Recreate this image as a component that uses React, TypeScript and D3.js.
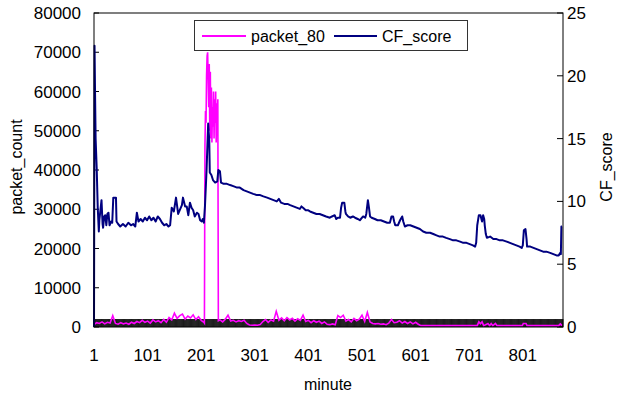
import * as d3 from "d3";

const width = 623;
const height = 399;
const plot = { left: 94, right: 563, top: 13, bottom: 327 };

const minuteDomain = [1, 876];
const minuteTicks = [1, 101, 201, 301, 401, 501, 601, 701, 801];
const packetTicks = [0, 10000, 20000, 30000, 40000, 50000, 60000, 70000, 80000];
const scoreTicks = [0, 5, 10, 15, 20, 25];

// [minute, packets]
const packet80: [number, number][] = [
  [1, 600], [6, 1100], [11, 900], [16, 1300], [21, 800], [26, 1200], [31, 1000], [36, 2900],
  [41, 900], [46, 700], [51, 1100], [56, 800], [61, 1000], [66, 700], [71, 1200], [76, 900],
  [81, 1400], [86, 1100], [91, 1700], [96, 1200], [101, 1500], [106, 1000], [111, 1800], [116, 1300],
  [121, 1600], [126, 1100], [131, 1900], [136, 1200], [141, 2400], [146, 1800], [151, 3500], [156, 2200],
  [161, 2900], [166, 3300], [171, 2000], [176, 2800], [181, 2300], [186, 3100], [191, 1900], [196, 2600],
  [201, 1700], [206, 1200], [207, 1000],
  [208, 46000], [209, 55000], [210, 52000], [211, 64000], [212, 69000], [213, 70000], [214, 63000],
  [215, 56000], [216, 67000], [217, 50000], [218, 65000], [219, 48000], [220, 61000], [221, 47000],
  [222, 56000], [223, 51000], [224, 60000], [225, 48000], [226, 58000], [227, 52000], [228, 60000],
  [229, 47000], [230, 57000], [231, 50000], [232, 58000],
  [233, 1600], [236, 1800], [241, 1300], [246, 2000], [251, 3000], [256, 1500], [261, 1700], [266, 1300],
  [271, 1600], [276, 1400], [281, 1700], [286, 900], [291, 500], [296, 450], [301, 500], [306, 450],
  [311, 600], [316, 1400], [321, 1900], [326, 1200], [331, 1800], [336, 1500], [341, 4000], [346, 1700],
  [351, 2300], [356, 1600], [361, 2400], [366, 1800], [371, 2200], [376, 1500], [381, 2100], [386, 1700],
  [391, 3000], [396, 1400], [401, 1700], [406, 1100], [411, 1600], [416, 1200], [421, 1500], [426, 900],
  [431, 1300], [436, 700], [441, 600], [446, 800], [451, 600], [456, 2900], [461, 2400], [466, 3000],
  [471, 1500], [476, 1900], [481, 1300], [486, 2200], [491, 1600], [496, 2000], [501, 3000], [506, 1400],
  [511, 3700], [516, 1300], [521, 900], [526, 800], [531, 900], [536, 700], [541, 800], [546, 600],
  [551, 1000], [556, 1900], [561, 1100], [566, 1200], [571, 1600], [576, 1000], [581, 1400], [586, 900],
  [591, 1300], [596, 800], [601, 1200], [606, 700], [611, 350], [631, 350], [651, 350], [671, 350],
  [691, 350], [711, 350], [716, 350], [719, 1300], [722, 800], [725, 1300], [728, 350], [736, 900],
  [739, 350], [742, 900], [745, 350], [750, 900], [753, 350], [771, 350], [791, 350], [800, 350],
  [802, 900], [807, 900], [809, 350], [831, 350], [851, 350], [868, 350], [871, 800], [874, 350],
];

// [minute, score]
const cfScore: [number, number][] = [
  [1, 0], [2, 22.4], [3, 18.5], [4, 15], [6, 12.7], [8, 9.5], [10, 7.6], [11, 8.5], [15, 10.1],
  [17, 8.2], [18, 7.9], [20, 8.8], [22, 8.9], [24, 8.1], [26, 9.0], [28, 9.1], [30, 8.1], [33, 8.4],
  [35, 8.3], [37, 10.3], [42, 10.3], [43, 8.4], [46, 8.2], [50, 8.0], [55, 8.2], [60, 8.0], [65, 8.3],
  [70, 8.1], [74, 8.2], [78, 8.0], [81, 9.1], [84, 8.4], [88, 8.6], [92, 8.4], [96, 8.7], [100, 8.5],
  [104, 8.8], [108, 8.5], [112, 8.7], [116, 8.4], [120, 8.8], [124, 8.6], [128, 8.3], [132, 8.1],
  [136, 8.2], [140, 8.0], [143, 8.1], [146, 9.5], [150, 9.2], [154, 10.3], [158, 9.0], [162, 9.4],
  [165, 9.7], [167, 10.3], [171, 9.6], [174, 9.6], [177, 8.9], [180, 9.9], [183, 9.5], [186, 9.3],
  [189, 8.8], [193, 9.1], [196, 9.0], [199, 8.5], [202, 8.4], [204, 8.6], [206, 8.3], [208, 9.6],
  [211, 12.5], [214, 16.2], [216, 14.9], [217, 12.3], [220, 12.1], [223, 11.7], [227, 11.5], [231, 11.6],
  [233, 12.5], [236, 12.4], [238, 11.5], [243, 11.4], [249, 11.4], [255, 11.3], [262, 11.2], [268, 11.1],
  [273, 11.1], [280, 10.9], [286, 10.8], [292, 10.7], [298, 10.6], [305, 10.5], [311, 10.5], [317, 10.4],
  [324, 10.3], [330, 10.2], [336, 10.1], [342, 10.0], [346, 10.2], [350, 9.9], [356, 9.8], [362, 9.8],
  [367, 9.7], [373, 9.6], [379, 9.5], [385, 9.4], [388, 9.6], [391, 9.5], [396, 9.3], [400, 9.3],
  [404, 9.2], [410, 9.1], [416, 9.0], [422, 9.0], [428, 8.9], [434, 8.8], [441, 8.7], [445, 8.8],
  [450, 8.9], [453, 8.6], [456, 8.7], [460, 8.7], [462, 9.5], [464, 9.9], [468, 9.9], [470, 9.2],
  [471, 9.0], [475, 8.8], [479, 8.7], [484, 8.8], [488, 8.7], [493, 8.6], [497, 8.5], [503, 8.8],
  [507, 8.7], [509, 9.0], [512, 10.1], [514, 9.5], [516, 8.8], [519, 8.7], [525, 8.6], [530, 8.5],
  [536, 8.5], [542, 8.4], [548, 8.3], [553, 8.3], [556, 8.8], [559, 8.8], [561, 8.4], [563, 8.1],
  [568, 8.1], [572, 8.5], [576, 8.8], [578, 8.4], [581, 8.0], [586, 8.1], [591, 8.1], [597, 8.0],
  [603, 7.9], [609, 7.8], [615, 7.6], [621, 7.5], [628, 7.5], [634, 7.4], [640, 7.3], [646, 7.2],
  [652, 7.2], [658, 7.1], [665, 7.0], [671, 6.9], [677, 6.9], [684, 6.8], [690, 6.7], [696, 6.7],
  [702, 6.6], [708, 6.5], [712, 6.4], [714, 6.7], [716, 8.1], [719, 8.9], [722, 8.9], [725, 8.4],
  [727, 8.9], [729, 8.6], [730, 8.1], [732, 7.4], [734, 7.1], [740, 7.2], [746, 7.0], [752, 7.0],
  [758, 6.9], [764, 6.9], [771, 6.8], [777, 6.7], [783, 6.6], [789, 6.5], [795, 6.4], [799, 6.3],
  [801, 6.5], [803, 7.7], [806, 7.8], [808, 7.0], [809, 6.4], [815, 6.4], [821, 6.3], [827, 6.2],
  [833, 6.1], [839, 6.0], [845, 6.0], [852, 5.9], [858, 5.8], [864, 5.7], [868, 5.7], [871, 5.9],
  [872, 5.8], [873, 8.0], [874, 8.0],
];

const font = "'Liberation Sans', Arial, sans-serif";

export default function App() {
  const x = d3.scaleLinear().domain(minuteDomain).range([plot.left, plot.right]);
  const yLeft = d3.scaleLinear().domain([0, 80000]).range([plot.bottom, plot.top]);
  const yRight = d3.scaleLinear().domain([0, 25]).range([plot.bottom, plot.top]);

  const packetLine = d3
    .line<[number, number]>()
    .x((d) => x(d[0]))
    .y((d) => yLeft(d[1]));
  const scoreLine = d3
    .line<[number, number]>()
    .x((d) => x(d[0]))
    .y((d) => yRight(d[1]));

  // one small tick per minute along the bottom axis
  const minuteMarks = d3.range(minuteDomain[0], minuteDomain[1] + 1);

  return (
    <svg
      width={width}
      height={height}
      style={{ position: "absolute", left: 0, top: 0, background: "#fff" }}
      fontFamily={font}
    >
      <rect width={width} height={height} fill="#fff" />

      {/* minute ticks */}
      <g stroke="#000" strokeWidth={0.75}>
        {minuteMarks.map((m) => (
          <line key={m} x1={x(m)} x2={x(m)} y1={plot.bottom - 8} y2={plot.bottom} />
        ))}
      </g>

      {/* left ticks */}
      <g>
        {packetTicks.map((t) => (
          <g key={t}>
            <line x1={plot.left} x2={plot.left + 5} y1={yLeft(t)} y2={yLeft(t)} stroke="#000" />
            <text x={81} y={yLeft(t) + 6} textAnchor="end" fontSize={17} fill="#000">
              {t}
            </text>
          </g>
        ))}
      </g>

      {/* right ticks */}
      <g>
        {scoreTicks.map((t) => (
          <g key={t}>
            <line x1={plot.right - 6} x2={plot.right} y1={yRight(t)} y2={yRight(t)} stroke="#000" />
            <text x={567} y={yRight(t) + 6} textAnchor="start" fontSize={17} fill="#000">
              {t}
            </text>
          </g>
        ))}
      </g>

      {/* x tick labels */}
      {minuteTicks.map((t) => (
        <text key={t} x={x(t)} y={361} textAnchor="middle" fontSize={17} fill="#000">
          {t}
        </text>
      ))}

      <path d={packetLine(packet80) ?? ""} fill="none" stroke="#ff00ff" strokeWidth={1.6} />
      <path d={scoreLine(cfScore) ?? ""} fill="none" stroke="#000080" strokeWidth={2} strokeLinejoin="round" />

      {/* frame */}
      <rect
        x={plot.left}
        y={plot.top}
        width={plot.right - plot.left}
        height={plot.bottom - plot.top}
        fill="none"
        stroke="#000"
        strokeWidth={1}
      />

      {/* axis titles */}
      <text x={328} y={390} textAnchor="middle" fontSize={16} fill="#000">
        minute
      </text>
      <text transform="translate(22,167) rotate(-90)" textAnchor="middle" fontSize={16} fill="#000">
        packet_count
      </text>
      <text transform="translate(612,167) rotate(-90)" textAnchor="middle" fontSize={16} fill="#000">
        CF_score
      </text>

      {/* legend */}
      <g>
        <rect x={194.5} y={20.5} width={273} height={30} fill="#fff" stroke="#333" strokeWidth={1} />
        <line x1={202} x2={246} y1={36} y2={36} stroke="#ff00ff" strokeWidth={2} />
        <text x={251} y={42} fontSize={16} fill="#000">
          packet_80
        </text>
        <line x1={334} x2={377} y1={36} y2={36} stroke="#000080" strokeWidth={2} />
        <text x={382} y={42} fontSize={16} fill="#000">
          CF_score
        </text>
      </g>
    </svg>
  );
}
